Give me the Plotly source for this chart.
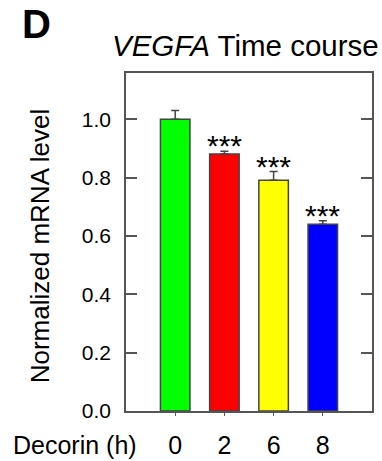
import plotly.graph_objects as go

categories = ["0", "2", "6", "8"]
values = [1.00, 0.881, 0.791, 0.640]
errors = [0.03, 0.01, 0.03, 0.012]
colors = ["#00FF00", "#FF0000", "#FFFF00", "#0000FF"]
stars = ["", "***", "***", "***"]
y_ticks = [0.0, 0.2, 0.4, 0.6, 0.8, 1.0]

FONT = "Liberation Sans, Arial, sans-serif"
AX = "#555555"

xpos = list(range(len(categories)))

fig = go.Figure()
fig.add_trace(go.Bar(
    x=xpos, y=values, width=0.6,
    marker=dict(color=colors, line=dict(color="#444444", width=1.5)),
    error_y=dict(type="data", symmetric=False, array=errors,
                 arrayminus=[0] * len(errors), color="#444444",
                 thickness=1.5, width=4),
    showlegend=False,
))

annotations = []
for i, (v, e, s) in enumerate(zip(values, errors, stars)):
    if s:
        annotations.append(dict(x=i, y=v + e, xref="x", yref="y", text=s,
                                showarrow=False, yanchor="bottom", yshift=-13,
                                font=dict(family=FONT, size=30, color="black")))

annotations += [
    dict(x=-0.365, y=1.146, xref="paper", yref="paper", text="<b>D</b>",
         showarrow=False, xanchor="center", yanchor="middle",
         font=dict(family=FONT, size=40, color="black")),
    dict(x=0.4858, y=1.08, xref="paper", yref="paper",
         text="<i>VEGFA</i> Time course", showarrow=False,
         xanchor="center", yanchor="middle",
         font=dict(family=FONT, size=29.5, color="black")),
    dict(x=-0.35, y=0.49, xref="paper", yref="paper",
         text="Normalized mRNA level", textangle=-90, showarrow=False,
         xanchor="center", yanchor="middle",
         font=dict(family=FONT, size=26, color="black")),
    dict(x=-0.4634, y=-0.146, xref="paper", yref="paper",
         text="Decorin (h)", showarrow=False, xanchor="left", yanchor="bottom",
         borderpad=0,
         font=dict(family=FONT, size=25, color="black")),
]

fig.update_layout(
    width=382, height=461,
    margin=dict(l=126, r=10, t=73, b=50, autoexpand=False),
    plot_bgcolor="white", paper_bgcolor="white",
    annotations=annotations,
    xaxis=dict(range=[-1, 4], tickmode="array", tickvals=xpos,
               ticktext=categories, ticks="outside", ticklen=3,
               tickcolor=AX, showline=True, linecolor=AX, linewidth=1.5,
               mirror=True, showgrid=False, zeroline=False,
               automargin=False, ticklabelstandoff=8,
               tickfont=dict(family=FONT, size=25, color="black")),
    yaxis=dict(range=[0, 1.159], tickmode="array", tickvals=y_ticks,
               ticktext=[f"{t:.1f}" for t in y_ticks], ticks="inside",
               ticklen=11, tickcolor=AX, tickwidth=1.5, showline=True,
               linecolor=AX, linewidth=1.5, mirror="ticks", showgrid=False,
               zeroline=False, automargin=False, ticklabelstandoff=9,
               tickfont=dict(family=FONT, size=21, color="black")),
)

fig.write_html("out.html")
